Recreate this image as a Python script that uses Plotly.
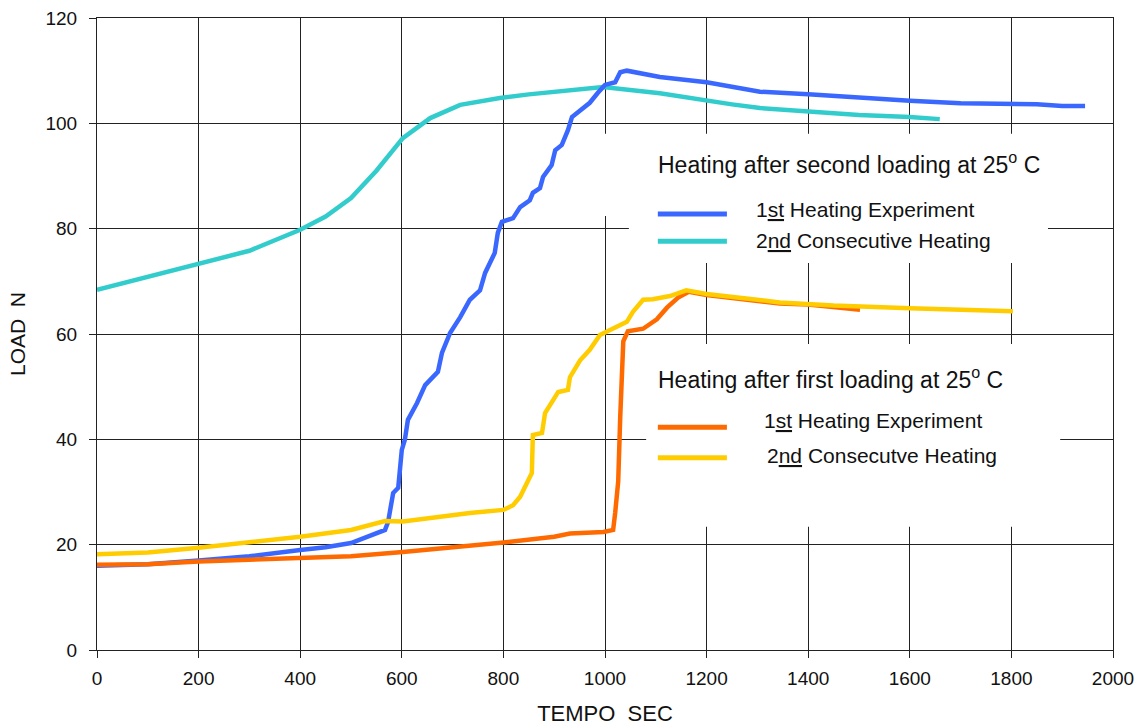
import plotly.graph_objects as go

# ---- measured load curves (time in s, load in N) ----
# heating after second loading at 25 C
second_1st_t = [0, 100, 200, 300, 400, 450, 500, 537, 567, 573, 583, 593, 600, 606, 612, 630,
                646, 671, 679, 695, 715, 734, 754, 764, 783, 789, 797, 819, 833, 852, 858, 872,
                878, 895, 902, 915, 927, 935, 945, 970, 986, 1000, 1020, 1030, 1043, 1108, 1200,
                1305, 1400, 1500, 1600, 1700, 1778, 1850, 1900, 1945]
second_1st_load = [16.0, 16.3, 17.0, 17.8, 19.0, 19.5, 20.3, 21.8, 22.8, 24.3, 29.8, 30.8, 38.0,
                   39.9, 43.7, 46.9, 50.3, 52.8, 56.4, 60.2, 63.2, 66.5, 68.3, 71.6, 75.4, 79.2,
                   81.3, 82.0, 84.1, 85.4, 86.8, 87.7, 89.8, 92.1, 94.9, 95.9, 98.7, 101.2, 102.0,
                   103.9, 105.8, 107.3, 107.8, 109.7, 110.0, 108.8, 107.8, 106.0, 105.5, 104.8,
                   104.3, 103.8, 103.7, 103.6, 103.3, 103.3]

second_2nd_t = [0, 100, 200, 300, 400, 450, 500, 527, 537, 550, 602, 656, 715, 793, 850, 911,
                996, 1108, 1200, 1250, 1305, 1429, 1500, 1600, 1659]
second_2nd_load = [68.4, 70.8, 73.3, 75.8, 79.8, 82.3, 85.8, 88.5, 89.8, 91.0, 97.2, 101.0, 103.5,
                   104.8, 105.5, 106.0, 106.9, 105.7, 104.2, 103.6, 102.9, 102.0, 101.6, 101.2, 100.8]

# heating after first loading at 25 C
first_1st_t = [0, 100, 200, 300, 400, 500, 602, 700, 800, 900, 931, 997, 1016, 1020, 1026, 1030,
               1033, 1036, 1045, 1075, 1102, 1122, 1145, 1165, 1200, 1344, 1400, 1502]
first_1st_load = [16.2, 16.3, 16.8, 17.1, 17.4, 17.8, 18.6, 19.4, 20.4, 21.5, 22.1, 22.4, 22.8,
                  26.0, 32.0, 44.3, 55.0, 58.6, 60.5, 61.0, 62.8, 65.0, 67.0, 68.0, 67.4, 65.8,
                  65.6, 64.6]

first_2nd_t = [0, 100, 200, 300, 400, 500, 537, 567, 602, 669, 734, 800, 819, 833, 846, 856, 858,
               876, 882, 896, 908, 927, 931, 951, 970, 990, 1024, 1043, 1055, 1075, 1094, 1128,
               1160, 1200, 1344, 1450, 1600, 1700, 1803]
first_2nd_load = [18.2, 18.5, 19.4, 20.4, 21.5, 22.8, 23.7, 24.5, 24.4, 25.3, 26.0, 26.6, 27.5,
                  29.1, 31.6, 33.6, 40.8, 41.2, 45.0, 47.1, 49.0, 49.4, 51.8, 55.0, 57.0, 59.8,
                  61.3, 62.3, 64.2, 66.5, 66.6, 67.2, 68.3, 67.6, 66.0, 65.4, 64.9, 64.6, 64.3]

x_ticks = [0, 200, 400, 600, 800, 1000, 1200, 1400, 1600, 1800, 2000]
y_ticks = [0, 20, 40, 60, 80, 100, 120]

BLUE = "#3A68FF"
CYAN = "#33CCCC"
ORANGE = "#FF6A00"
YELLOW = "#FFCC00"
FONT = "Arial, 'Liberation Sans', sans-serif"
LW = 4.5

fig = go.Figure()
for t, load, col in [(second_2nd_t, second_2nd_load, CYAN),
                     (second_1st_t, second_1st_load, BLUE),
                     (first_1st_t, first_1st_load, ORANGE),
                     (first_2nd_t, first_2nd_load, YELLOW)]:
    fig.add_trace(go.Scatter(x=t, y=load, mode="lines",
                             line=dict(color=col, width=LW), showlegend=False,
                             hoverinfo="skip"))

shapes = []
# white panels behind the two key blocks
for x0, x1, y0, y1 in [(990, 1890, 82.4, 98.0),
                       (1047, 1872, 73.5, 82.6),
                       (1081, 1896, 23.4, 58.1)]:
    shapes.append(dict(type="rect", xref="x", yref="y", x0=x0, x1=x1, y0=y0, y1=y1,
                       fillcolor="white", line=dict(width=0), layer="above"))

# key sample lines
for y, col in [(82.8, BLUE), (77.6, CYAN), (42.3, ORANGE), (36.5, YELLOW)]:
    shapes.append(dict(type="line", xref="x", yref="y", x0=1104, x1=1240, y0=y, y1=y,
                       line=dict(color=col, width=5), layer="above"))

annotations = []
key_text = [
    (1100, 92.5, "Heating after second loading at 25<sup>o</sup> C", 23),
    (1294, 83.7, "1<u>st</u> Heating Experiment", 21),
    (1294, 77.8, "2<u>nd</u> Consecutive Heating", 21),
    (1100, 51.6, "Heating after first loading at 25<sup>o</sup> C", 23),
    (1309, 43.5, "1<u>st</u> Heating Experiment", 21),
    (1315, 36.9, "2<u>nd</u> Consecutve Heating", 21),
]
for x, y, txt, size in key_text:
    annotations.append(dict(x=x, y=y, xref="x", yref="y", text=txt, showarrow=False,
                            xanchor="left", yanchor="middle",
                            font=dict(family=FONT, size=size, color="#111")))

fig.update_layout(
    width=1140, height=726,
    margin=dict(l=97, r=27, t=18, b=76),
    paper_bgcolor="white", plot_bgcolor="white",
    font=dict(family=FONT, size=19, color="#111"),
    shapes=shapes, annotations=annotations,
    showlegend=False,
)
fig.update_xaxes(range=[0, 2000], tickvals=x_ticks, ticktext=[str(v) for v in x_ticks],
                 showgrid=True, gridcolor="#222", gridwidth=1,
                 showline=True, linecolor="#222", linewidth=1, mirror=True,
                 ticks="outside", ticklen=7, tickcolor="#222", ticklabelstandoff=4,
                 zeroline=False, automargin=False,
                 title=dict(text="TEMPO\u00a0 SEC", font=dict(family=FONT, size=22), standoff=18))
fig.update_yaxes(range=[0, 120], tickvals=y_ticks, ticktext=[str(v) for v in y_ticks],
                 showgrid=True, gridcolor="#222", gridwidth=1,
                 showline=True, linecolor="#222", linewidth=1, mirror=True,
                 ticks="outside", ticklen=7, tickcolor="#222", ticklabelstandoff=8,
                 zeroline=False, automargin=False,
                 title=dict(text="LOAD\u00a0 N", font=dict(family=FONT, size=21), standoff=14))

fig.write_html("out.html")
